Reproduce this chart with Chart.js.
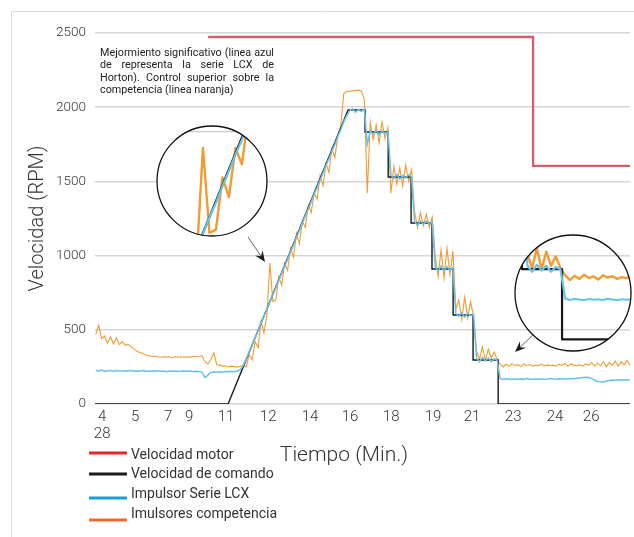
<!DOCTYPE html>
<html>
<head>
<meta charset="utf-8">
<script src="https://cdn.jsdelivr.net/npm/chart.js@4.4.0/dist/chart.umd.min.js"></script>
<style>
  html, body { margin: 0; padding: 0; background: #fff; }
  #wrap { position: relative; width: 634px; height: 537px; }
</style>
</head>
<body>
<div id="wrap"><canvas id="speedChart" width="634" height="537"></canvas></div>
<script>
// --- data (minutes / RPM) ---
const xTickAt = [5.96, 7.30, 8.64, 9.50, 11.0, 12.71, 14.41, 16.04, 17.71, 19.41, 21.0, 22.67, 24.37, 25.84];
const xTickLabels = [['4', '28'], '5', '7', '9', '11', '12', '14', '16', '18', '19', '21', '23', '24', '26'];
const yTicks = [0, 500, 1000, 1500, 2000, 2500];

const tMotor = [10.27, 23.48, 23.48, 27.42];
const vMotor = [2473, 2473, 1604, 1604];

const tCmd = [5.67, 11.08, 15.96, 16.65, 16.65, 17.59, 17.59, 18.52, 18.52, 19.37, 19.37, 20.23, 20.23, 21.04, 21.04, 22.06, 22.06, 27.42];
const vCmd = [0, 0, 1981, 1981, 1833, 1833, 1530, 1530, 1220, 1220, 910, 910, 600, 600, 296, 296, 0, 0];

// logged channels, one reading every 0.12 min from 5.7 min
const blueLCX = [
  225, 222, 228, 220, 224, 226, 221, 225, 223, 220,
  224, 222, 226, 221, 223, 220, 225, 222, 219, 223,
  221, 224, 220, 222, 218, 223, 220, 222, 219, 221,
  223, 220, 222, 218, 221, 219, 215, 178, 195, 212,
  216, 214, 218, 215, 219, 216, 220, 218, 222, 232,
  262, 305, 352, 398, 447, 492, 545, 590, 640, 688,
  738, 782, 833, 880, 930, 975, 1028, 1072, 1125, 1168,
  1220, 1268, 1315, 1362, 1415, 1458, 1510, 1556, 1608, 1652,
  1705, 1748, 1802, 1848, 1900, 1942, 1975, 1990, 1965, 1985,
  1970, 1988, 1750, 1840, 1818, 1845, 1815, 1840, 1822, 1835,
  1545, 1520, 1548, 1515, 1540, 1522, 1546, 1525, 1230, 1205,
  1235, 1210, 1232, 1214, 1226, 925, 895, 930, 900, 925,
  905, 920, 610, 590, 615, 585, 610, 595, 605, 310,
  285, 315, 290, 310, 285, 305, 295, 172, 166, 170,
  168, 165, 170, 167, 169, 166, 171, 168, 165, 169,
  167, 170, 166, 168, 172, 169, 167, 170, 168, 171,
  169, 172, 170, 174, 176, 178, 181, 178, 172, 160,
  152, 150, 148, 155, 158, 162, 160, 163, 161, 164,
  162, 163
];
const orangeComp = [
  470, 530, 440, 458, 410, 452, 405, 446, 400, 420,
  395, 402, 385, 370, 355, 345, 340, 330, 325, 320,
  322, 318, 315, 320, 316, 318, 312, 318, 315, 320,
  314, 318, 316, 322, 318, 320, 325, 285, 270, 300,
  345, 265, 262, 255, 258, 250, 255, 252, 248, 255,
  260, 250, 330, 300, 420, 380, 560, 480, 600, 950,
  690, 700, 860, 800, 950, 900, 1050, 990, 1150, 1080,
  1230, 1190, 1340, 1290, 1420, 1380, 1540, 1470, 1620, 1560,
  1720, 1660, 1800, 1870, 2090, 2105, 2108, 2110, 2112, 2115,
  2110, 2050, 1420, 1900, 1780, 1880, 1760, 1900, 1790, 1860,
  1420, 1600, 1480, 1590, 1470, 1610, 1500, 1580, 1300, 1190,
  1290, 1200, 1280, 1190, 1260, 1000, 860, 1040, 850, 1050,
  870, 1030, 640, 700, 570, 720, 580, 690, 590, 360,
  300, 385, 295, 370, 310, 350, 300, 270, 250, 268,
  255, 272, 258, 265, 252, 270, 260, 266, 255, 262,
  258, 270, 255, 265, 258, 262, 255, 268, 260, 275,
  255, 270, 262, 258, 265, 255, 270, 262, 280, 255,
  275, 258, 285, 250, 280, 260, 290, 255, 285, 265,
  295, 260
];
const minutes = blueLCX.map((_, i) => +(5.7 + i * 0.12).toFixed(2));

const seriesNames = ['Velocidad motor', 'Velocidad de comando', 'Impulsor Serie LCX', 'Imulsores competencia'];
const legendColors = ['#e1262b', '#1c1c1c', '#1a9fdc', '#ec6a2c'];
const noteLines = [
  'Mejormiento significativo  (linea azul',
  'de  representa la serie LCX de',
  'Horton). Control superior sobre la',
  'competencia (linea naranja)'
];

const FONT = 'Roboto, "Open Sans", sans-serif';
const toXY = (ts, vs) => ts.map((t, i) => ({ x: t, y: vs[i] }));

// magnifier circles: centre, radius, focus point in plot pixels, zoom factor
const insets = [
  { cx: 212, cy: 181, r: 55, fx: 274, fy: 278, k: 2.2, fill: true, arrow: [248, 237, 265, 262] },
  { cx: 573, cy: 293, r: 58, fx: 505, fy: 375, k: 1.6, fill: false, arrow: [534, 334, 515, 352] }
];

function drawArrow(ctx, x1, y1, x2, y2) {
  const a = Math.atan2(y2 - y1, x2 - x1);
  ctx.save();
  ctx.strokeStyle = '#666';
  ctx.lineWidth = 1;
  ctx.beginPath(); ctx.moveTo(x1, y1); ctx.lineTo(x2 - 6 * Math.cos(a), y2 - 6 * Math.sin(a)); ctx.stroke();
  ctx.fillStyle = '#1a1a1a';
  ctx.beginPath();
  ctx.moveTo(x2, y2);
  ctx.lineTo(x2 - 11 * Math.cos(a) + 4.5 * Math.sin(a), y2 - 11 * Math.sin(a) - 4.5 * Math.cos(a));
  ctx.lineTo(x2 - 7 * Math.cos(a), y2 - 7 * Math.sin(a));
  ctx.lineTo(x2 - 11 * Math.cos(a) - 4.5 * Math.sin(a), y2 - 11 * Math.sin(a) + 4.5 * Math.cos(a));
  ctx.closePath(); ctx.fill();
  ctx.restore();
}

function drawInset(chart, o) {
  const ctx = chart.ctx, yScale = chart.scales.y, area = chart.chartArea;
  ctx.save();
  ctx.beginPath(); ctx.arc(o.cx, o.cy, o.r, 0, Math.PI * 2);
  if (o.fill) { ctx.fillStyle = '#fff'; ctx.fill(); }
  ctx.clip();
  ctx.translate(o.cx, o.cy); ctx.scale(o.k, o.k); ctx.translate(-o.fx, -o.fy);
  if (o.fill) {
    ctx.strokeStyle = '#c9c9c9'; ctx.lineWidth = 1.3 / o.k;
    yScale.ticks.forEach(t => {
      const y = yScale.getPixelForValue(t.value);
      ctx.beginPath(); ctx.moveTo(area.left, y); ctx.lineTo(area.right, y); ctx.stroke();
    });
  }
  // orange first, then command, then LCX on top (same as the main plot)
  [[3, 2.4], [1, 2.2], [2, 2.2]].forEach(([d, w]) => {
    const pts = chart.getDatasetMeta(d).data;
    ctx.strokeStyle = chart.data.datasets[d].borderColor;
    ctx.lineWidth = w / o.k;
    ctx.lineJoin = 'round';
    ctx.beginPath();
    pts.forEach((p, j) => j ? ctx.lineTo(p.x, p.y) : ctx.moveTo(p.x, p.y));
    ctx.stroke();
  });
  ctx.restore();
  ctx.save();
  ctx.beginPath(); ctx.arc(o.cx, o.cy, o.r, 0, Math.PI * 2);
  ctx.strokeStyle = '#111'; ctx.lineWidth = 1.3; ctx.stroke();
  ctx.restore();
  drawArrow(ctx, ...o.arrow);
}

const decorations = {
  id: 'decorations',
  beforeDraw(chart) {
    const ctx = chart.ctx;
    ctx.save();
    ctx.strokeStyle = '#d9d9d9'; ctx.lineWidth = 1;
    ctx.beginPath(); ctx.moveTo(11.5, 600); ctx.lineTo(11.5, 11.5); ctx.lineTo(700, 11.5); ctx.stroke();
    ctx.restore();
  },
  afterDatasetsDraw(chart) {
    insets.forEach(o => drawInset(chart, o));
  },
  afterDraw(chart) {
    const ctx = chart.ctx;
    ctx.save();
    // note, justified like the original text box
    ctx.fillStyle = '#222';
    ctx.font = '10.8px ' + FONT;
    ctx.textBaseline = 'middle';
    const boxLeft = 100, boxWidth = 174;
    noteLines.forEach((line, li) => {
      const y = 53 + li * 12.6;
      if (li === noteLines.length - 1) { ctx.textAlign = 'left'; ctx.fillText(line, boxLeft, y); return; }
      const words = line.split(/\s+/);
      const used = words.reduce((s, w) => s + ctx.measureText(w).width, 0);
      const gap = (boxWidth - used) / (words.length - 1);
      let x = boxLeft;
      ctx.textAlign = 'left';
      words.forEach(w => { ctx.fillText(w, x, y); x += ctx.measureText(w).width + gap; });
    });
    // x-axis title
    ctx.fillStyle = '#333';
    ctx.font = '300 21px ' + FONT;
    ctx.textAlign = 'center';
    ctx.fillText('Tiempo (Min.)', 344, 456);
    // legend, one entry per row
    const textY = [455, 474, 494, 514], lineY = [453, 474, 498, 520];
    ctx.font = '14px ' + FONT;
    ctx.textAlign = 'left';
    seriesNames.forEach((name, i) => {
      ctx.strokeStyle = legendColors[i]; ctx.lineWidth = 3;
      ctx.beginPath(); ctx.moveTo(89, lineY[i]); ctx.lineTo(127, lineY[i]); ctx.stroke();
      ctx.fillStyle = '#333';
      ctx.fillText(name, 131, textY[i]);
    });
    ctx.restore();
  }
};

const line = (extra) => Object.assign({ pointRadius: 0, tension: 0, fill: false }, extra);

new Chart(document.getElementById('speedChart'), {
  type: 'line',
  data: {
    labels: minutes,
    datasets: [
      line({ label: seriesNames[0], data: toXY(tMotor, vMotor), borderColor: '#cf5f6c', borderWidth: 2.3, order: 0 }),
      line({ label: seriesNames[1], data: toXY(tCmd, vCmd), borderColor: '#1a1a1a', borderWidth: 1.4, order: 2 }),
      line({ label: seriesNames[2], data: blueLCX, borderColor: '#66c3ec', borderWidth: 1.5, order: 1 }),
      line({ label: seriesNames[3], data: orangeComp, borderColor: '#f29b32', borderWidth: 1.1, order: 3 })
    ]
  },
  options: {
    responsive: false,
    animation: false,
    devicePixelRatio: 1,
    layout: { padding: { left: 0, top: 33, right: 4, bottom: 0 } },
    plugins: { legend: { display: false }, tooltip: { enabled: false } },
    scales: {
      x: {
        type: 'linear',
        min: 5.67, max: 27.42,
        afterBuildTicks: s => { s.ticks = xTickAt.map(v => ({ value: v })); },
        afterFit: s => { s.height = 133; },
        grid: { display: false },
        border: { display: false },
        ticks: {
          autoSkip: false, maxRotation: 0, padding: -3,
          color: '#333', font: { family: FONT, size: 15, weight: '300', lineHeight: 1.1 },
          callback: (v, i) => xTickLabels[i]
        }
      },
      y: {
        min: 0, max: 2500,
        afterBuildTicks: s => { s.ticks = yTicks.map(v => ({ value: v })); },
        afterFit: s => { s.width = 95; },
        grid: { color: '#d6d6d6', lineWidth: 1.5, drawTicks: false },
        border: { display: false },
        ticks: {
          padding: 9, color: '#333',
          font: { family: FONT, size: 13.5, weight: '300' },
          callback: v => String(v)
        },
        title: {
          display: true, text: 'Velocidad (RPM)', color: '#333',
          font: { family: FONT, size: 20, weight: '300', lineHeight: 1.2 },
          padding: { top: 26, bottom: 0 }
        }
      }
    }
  },
  plugins: [decorations]
});
</script>
</body>
</html>
